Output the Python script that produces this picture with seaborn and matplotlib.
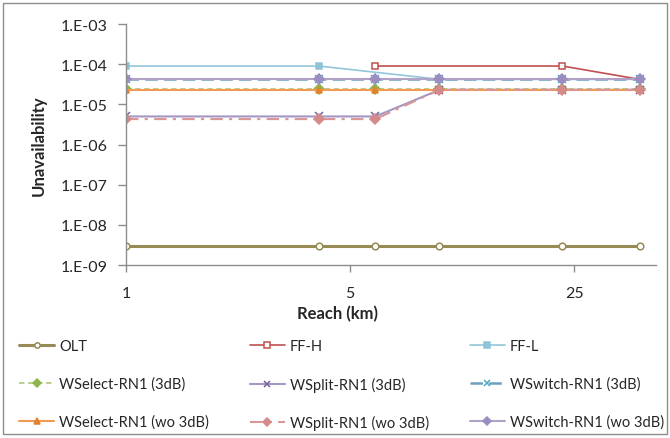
import numpy as np
import pandas as pd
import seaborn as sns
import matplotlib.pyplot as plt
from matplotlib.patches import Rectangle

# reach values (km) and unavailability per series, None = no point
reach = [1, 4, 6, 9.5, 23, 40]

olt = [2.9e-9, 2.9e-9, 2.9e-9, 2.9e-9, 2.9e-9, 2.9e-9]
ff_h = [None, None, 9.0e-5, None, 9.0e-5, 4.2e-5]
ff_l = [9.0e-5, 9.0e-5, None, 4.2e-5, 4.2e-5, 4.2e-5]
wselect_3db = [2.4e-5, 2.4e-5, 2.4e-5, 2.4e-5, 2.4e-5, 2.4e-5]
wsplit_3db = [5.0e-6, 5.0e-6, 5.0e-6, 2.3e-5, 2.3e-5, 2.3e-5]
wswitch_3db = [4.4e-5, 4.4e-5, 4.4e-5, 4.4e-5, 4.4e-5, 4.4e-5]
wselect_wo = [2.3e-5, 2.3e-5, 2.3e-5, 2.3e-5, 2.3e-5, 2.3e-5]
wsplit_wo = [4.3e-6, 4.3e-6, 4.3e-6, 2.3e-5, 2.3e-5, 2.3e-5]
wswitch_wo = [4.3e-5, 4.3e-5, 4.3e-5, 4.3e-5, 4.3e-5, 4.3e-5]

series = [
    ("OLT", olt),
    ("FF-H", ff_h),
    ("FF-L", ff_l),
    ("WSelect-RN1 (3dB)", wselect_3db),
    ("WSplit-RN1 (3dB)", wsplit_3db),
    ("WSwitch-RN1 (3dB)", wswitch_3db),
    ("WSelect-RN1 (wo 3dB)", wselect_wo),
    ("WSplit-RN1 (wo 3dB)", wsplit_wo),
    ("WSwitch-RN1 (wo 3dB)", wswitch_wo),
]

# line colour, marker colour, marker, filled, linestyle, linewidth
styles = {
    "OLT": ("#968a55", "#968a55", "o", False, "-", 2.2),
    "FF-H": ("#c0504d", "#c0504d", "s", False, "-", 1.2),
    "FF-L": ("#93c6db", "#8fc3d6", "s", True, "-", 1.2),
    "WSelect-RN1 (3dB)": ("#b5cc8a", "#8fb64e", "D", True, (0, (3, 2)), 1.3),
    "WSplit-RN1 (3dB)": ("#a597c4", "#7461a0", "x", True, "-", 1.5),
    "WSwitch-RN1 (3dB)": ("#6f9fc0", "#4bacc6", "x", True, (0, (5, 2.5)), 1.8),
    "WSelect-RN1 (wo 3dB)": ("#f09a52", "#e3812f", "^", True, "-", 1.5),
    "WSplit-RN1 (wo 3dB)": ("#d99694", "#d48a88", "D", True, (0, (6, 3, 1.5, 3)), 1.5),
    "WSwitch-RN1 (wo 3dB)": ("#b3a2c7", "#9b8dbf", "D", True, "-", 1.5),
}

rows = []
for name, vals in series:
    for r, v in zip(reach, vals):
        if v is not None:
            rows.append((name, r, v))
df = pd.DataFrame(rows, columns=["series", "reach", "unavail"])

sns.set_style("white")
plt.rcParams["font.family"] = ["Lato", "DejaVu Sans"]

fig = plt.figure(figsize=(6.7, 4.39), dpi=100)
ax = fig.add_axes([0.188, 0.394, 0.791, 0.549])

for name, _ in series:
    lc, mc, mk, filled, ls, lw = styles[name]
    sub = df[df["series"] == name]
    sns.lineplot(data=sub, x="reach", y="unavail", ax=ax, color=lc, lw=lw,
                 linestyle=ls, marker=mk, markersize=4.8 if mk != "x" else 5.5,
                 markerfacecolor=mc if filled else "white",
                 markeredgecolor=mc, markeredgewidth=1.1,
                 label=name, sort=False)

ax.set_xscale("log", base=5)
ax.set_yscale("log")
ax.set_xlim(1, 45)
ax.set_ylim(1e-9, 1e-3)
ax.set_xticks([1, 5, 25])
ax.set_xticklabels(["1", "5", "25"])
yt = [10.0 ** e for e in range(-9, -2)]
ax.set_yticks(yt)
ax.set_yticklabels(["1.E-%02d" % -e for e in range(-9, -2)])
ax.minorticks_off()

for s in ["top", "right"]:
    ax.spines[s].set_visible(False)
for s in ["left", "bottom"]:
    ax.spines[s].set_color("#8c8c8c")
    ax.spines[s].set_linewidth(1)
ax.tick_params(axis="y", which="major", left=True, length=6, width=1,
               color="#8c8c8c", pad=7, labelsize=11.5)
ax.tick_params(axis="x", which="major", bottom=True, length=5, width=1,
               color="#8c8c8c", pad=10, labelsize=11.5)

ax.set_xlabel("Reach (km)", fontsize=12, fontweight="bold", labelpad=1)
ax.xaxis.set_label_coords(0.40, -0.165)
ax.set_ylabel("Unavailability", fontsize=12, fontweight="bold", labelpad=10)

handles, labels = ax.get_legend_handles_labels()
ax.get_legend().remove()
order = [0, 3, 6, 1, 4, 7, 2, 5, 8]
fig.legend([handles[i] for i in order], [labels[i] for i in order],
           loc="upper left", bbox_to_anchor=(0.02, 0.01, 0.98, 0.228),
           ncol=3, mode="expand", frameon=False, fontsize=10.5,
           handlelength=2.4, handletextpad=0.35, labelspacing=1.6,
           borderaxespad=0, markerscale=0.8)

fig.patches.append(Rectangle((0.005, 0.008), 0.99, 0.984, transform=fig.transFigure,
                             fill=False, edgecolor="#8c8c8c", lw=1))

fig.savefig("out.png", dpi=100)
